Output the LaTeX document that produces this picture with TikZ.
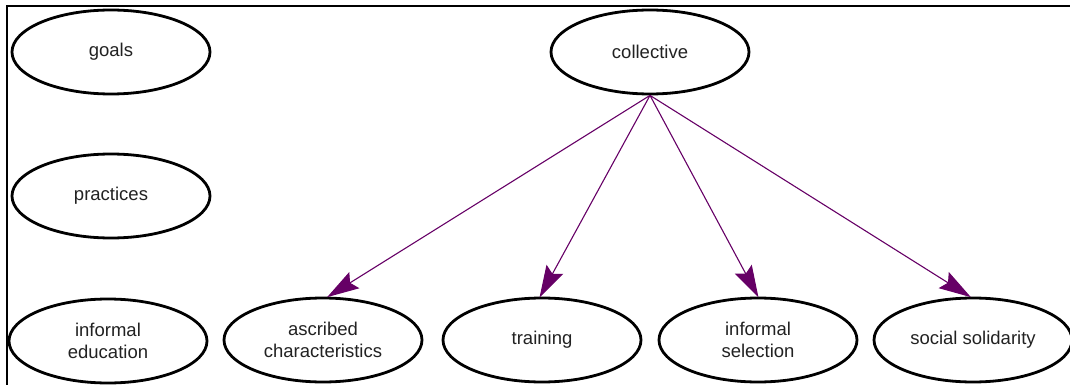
\documentclass[tikz,border=0pt]{standalone}
\usepackage{fontspec}
\setmainfont{Liberation Sans}
\usetikzlibrary{shapes.geometric,arrows.meta}
\definecolor{linkpurple}{HTML}{660066}
\definecolor{labelgray}{HTML}{222222}
\tikzset{
  concept/.style={ellipse, draw=black, line width=2.8pt, fill=white,
    minimum width=198pt, minimum height=84pt, inner sep=0pt,
    align=center, text=labelgray, font=\fontsize{18.5}{22}\selectfont},
  link/.style={draw=linkpurple, line width=1.1pt,
    -{Stealth[length=32pt, width=19pt, inset=5pt]}, shorten >=-1pt},
  frameline/.style={draw=black, line width=2pt}
}
\begin{document}
\begin{tikzpicture}[x=1pt, y=-1pt]
  \useasboundingbox (0,0) rectangle (1070,385);
  % panel frame: top and left edges only
  \coordinate (fTL) at (7,6);
  \coordinate (fTR) at (1072,6);
  \coordinate (fBL) at (7,387);
  \draw[frameline] (fTR) -- (fTL) -- (fBL);

  % left column
  \node[concept] (goals) at (111,52) {goals};
  \node[concept] (practices) at (111,196) {practices};
  \node[concept] (infedu) at (108,341) {informal\\education};

  % top concept
  \node[concept] (collective) at (650,52) {collective};

  % bottom row
  \node[concept] (ascribed) at (323,340) {ascribed\\characteristics};
  \node[concept] (training) at (542,340) {training};
  \node[concept] (infsel) at (758,340) {informal\\selection};
  \node[concept] (solidarity) at (973,340) {social solidarity};

  % links
  \draw[link] (collective.south) -- ([xshift=5pt]ascribed.north);
  \draw[link] (collective.south) -- ([xshift=-2pt]training.north);
  \draw[link] (collective.south) -- (infsel.north);
  \draw[link] (collective.south) -- ([xshift=-3pt]solidarity.north);
\end{tikzpicture}
\end{document}
